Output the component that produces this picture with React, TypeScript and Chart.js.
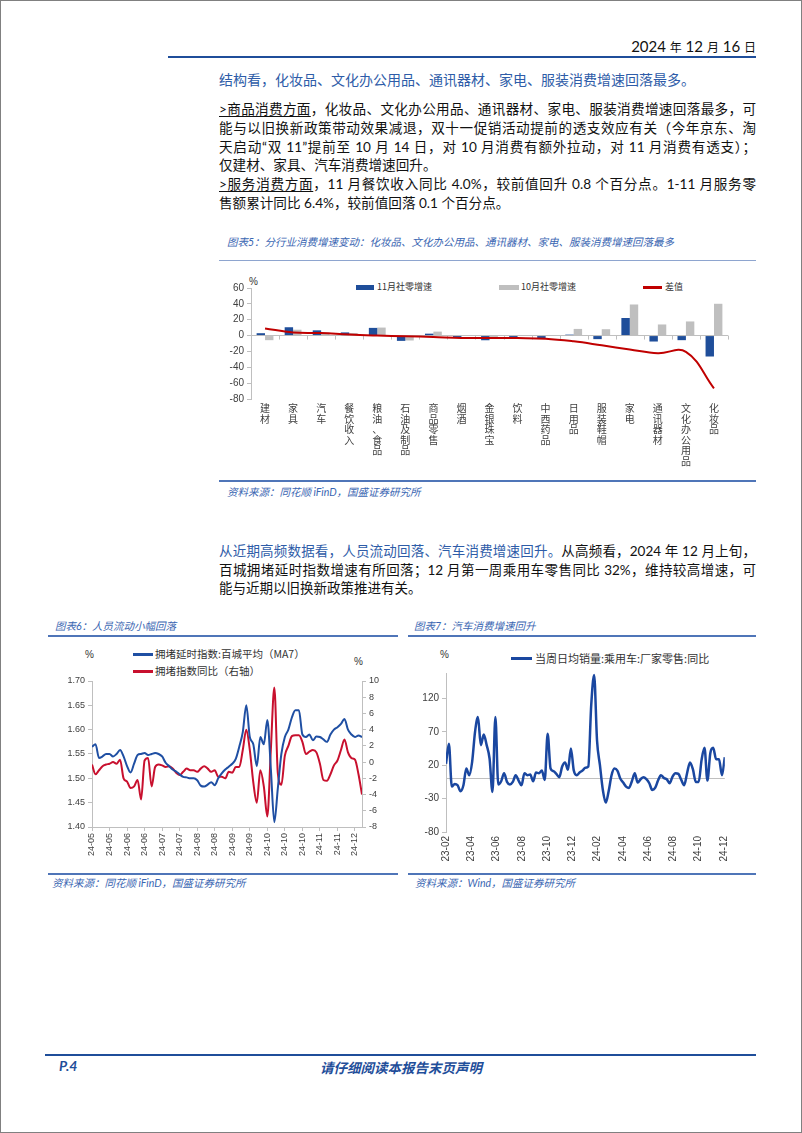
import React, { useEffect, useRef } from 'react';
import { Chart, registerables } from 'chart.js';

Chart.register(...registerables);
Chart.defaults.font.family = '"Liberation Sans", "Noto Sans CJK SC", sans-serif';
Chart.defaults.color = '#404040';

// ---------- Chart 5 data ----------
const categories5 = ['建材', '家具', '汽车', '餐饮收入', '粮油、食品', '石油及制品', '商品零售', '烟酒', '金银珠宝', '饮料', '中西药品', '日用品', '服装鞋帽', '家电', '通讯器材', '文化办公用品', '化妆品'];
const nov5 = [3.0, 10.5, 6.6, 4.0, 9.7, -6.7, 2.4, -3.1, -5.9, -2.4, -3.6, 1.2, -4.5, 22.2, -7.5, -5.8, -26.4];
const oct5 = [-5.8, 7.4, 3.7, 3.2, 10.1, -6.2, 5.0, 0.4, -2.9, 0.6, 0.4, 8.4, 8.0, 39.2, 14.0, 17.8, 40.1];
const diff5 = [9.0, 4.0, 3.2, 1.2, 0.0, -0.8, -1.8, -3.0, -3.1, -3.2, -3.9, -7.3, -12.3, -17.5, -22.2, -20.5, -66.5];
const yTicks5 = [-80, -60, -40, -20, 0, 20, 40, 60];

// ---------- Chart 6 data (one sample every 3 days from early May 2024) ----------
const sampleDays6 = 3;
const tickLabels6 = ['24-05', '24-05', '24-06', '24-06', '24-07', '24-07', '24-08', '24-08', '24-09', '24-09', '24-10', '24-10', '24-10', '24-11', '24-11', '24-12'];
const tickDays6 = [0, 15, 30, 45, 60, 75, 90, 105, 120, 135, 150, 165, 180, 195, 210, 225];
const congestion6 = [
  1.565, 1.570, 1.542, 1.545, 1.550, 1.550, 1.545, 1.550, 1.558, 1.545,
  1.525, 1.512, 1.530, 1.548, 1.550, 1.552, 1.548, 1.550, 1.552, 1.550,
  1.545, 1.532, 1.525, 1.518, 1.514, 1.508, 1.503, 1.502, 1.500, 1.500,
  1.496, 1.485, 1.483, 1.487, 1.492, 1.486, 1.500, 1.510, 1.518, 1.524,
  1.530, 1.540, 1.565, 1.595, 1.650, 1.585, 1.570, 1.525, 1.585, 1.570,
  1.620, 1.520, 1.410, 1.480, 1.550, 1.585, 1.600, 1.625, 1.640, 1.640,
  1.590, 1.585, 1.590, 1.578, 1.586, 1.585, 1.580, 1.575, 1.590, 1.600,
  1.605, 1.612, 1.622, 1.600, 1.590, 1.585, 1.588, 1.585,
];
const yoy6 = [
  -0.3, -1.5, -1.0, -0.5, -0.3, -0.2, 0.0, -0.2, 0.3, -2.0,
  -2.4, -3.2, -3.0, -2.2, -4.6, 0.2, 0.5, -3.0, -0.6, -0.3,
  -0.4, -0.6, -0.5, -0.8, -1.3, -1.6, -1.2, -0.8, -1.0, -1.0,
  -1.2, -0.8, -0.5, -0.8, -1.2, -1.0, -1.8, -1.8, -2.0, -1.2,
  -1.3, -0.6, -0.6, 1.5, 4.0, 1.5, -2.5, -5.0, -1.0, -3.0,
  -6.7, 1.5, 9.2, -1.4, -2.8, 0.8, 2.0, 3.2, 3.3, 3.3,
  2.5, 1.0, 1.3, 1.5, 1.2, -0.2, -2.2, -2.3, -1.5, -0.4,
  0.2, 1.5, 2.8, 1.2, 0.5, 0.3, -1.5, -4.0,
];
const leftTicks6 = [1.40, 1.45, 1.50, 1.55, 1.60, 1.65, 1.70];
const rightTicks6 = [-8, -6, -4, -2, 0, 2, 4, 6, 8, 10];

// ---------- Chart 7 data (weekly from Feb 2023) ----------
const tickLabels7 = ['23-02', '23-04', '23-06', '23-08', '23-10', '23-12', '24-02', '24-04', '24-06', '24-08', '24-10', '24-12'];
const tickWeeks7 = [0, 8.7, 17.4, 26.1, 34.8, 43.5, 52.2, 60.9, 69.6, 78.3, 87.0, 95.7];
const sales7 = [
  22, 52, -12, -8, -10, -19, -10, 15, 5, 25,
  70, 92, 50, 66, 50, 30, -20, 92, -9, -4,
  8, -5, -9, -5, 5, -3, -10, 8, 5, 6,
  -4, 9, 8, 12, -2, 67, 15, 11, 7, 2,
  18, 24, 13, 45, 12, 5, 9, 12, 16, 18,
  110, 155, 57, 20, -17, -36, -19, 5, 15, 12,
  0, -6, -12, -14, -4, 8, -6, -1, 2, -1,
  -7, -17, -14, -3, 5, 1, -1, -7, 3, 8,
  7, -2, -10, 8, 24, 14, -5, -5, 28, 46,
  -3, 38, 46, 29, 29, 5, 32,
];
const yTicks7 = [-80, -30, 0, 20, 70, 120];

const BLUE_TEXT = '#2e5ca8';
const TITLE_BLUE = '#3a66b2';
const CN = '"Noto Sans CJK SC", sans-serif';
const MIX = 'Lato, "Noto Sans CJK SC", sans-serif';
const GRAY = '#bfbfbf';

function ChartCanvas({ left, top, width, height, make }: { left: number; top: number; width: number; height: number; make: (c: HTMLCanvasElement) => Chart }) {
  const ref = useRef<HTMLCanvasElement>(null);
  useEffect(() => {
    const ch = make(ref.current as HTMLCanvasElement);
    return () => ch.destroy();
  }, []);
  return (
    <div style={{ position: 'absolute', left, top, width, height }}>
      <canvas ref={ref} width={width} height={height} style={{ width, height, display: 'block' }} />
    </div>
  );
}

const zeroTickPlugin = {
  id: 'zeroTicks',
  beforeDatasetsDraw(chart: any) {
    const { ctx, scales } = chart;
    const x = scales.x;
    const y = scales.y;
    const y0 = y.getPixelForValue(0);
    const step = x.getPixelForValue(1) - x.getPixelForValue(0);
    ctx.save();
    ctx.strokeStyle = GRAY;
    ctx.lineWidth = 1;
    for (let i = 0; i <= categories5.length; i++) {
      const px = Math.round(x.getPixelForValue(i) - step / 2) + 0.5;
      ctx.beginPath();
      ctx.moveTo(px, y0);
      ctx.lineTo(px, y0 + 4);
      ctx.stroke();
    }
    ctx.restore();
  },
};

function makeChart5(canvas: HTMLCanvasElement) {
  return new Chart(canvas, {
    type: 'bar',
    data: {
      labels: categories5.map((c) => Array.from(c)),
      datasets: [
        { type: 'line', label: '差值', data: diff5, borderColor: '#c00000', backgroundColor: '#c00000', borderWidth: 2, pointRadius: 0, tension: 0.4, order: 0 } as any,
        { type: 'bar', label: '11月社零增速', data: nov5, backgroundColor: '#1f4e9a', order: 1, categoryPercentage: 0.6, barPercentage: 1 },
        { type: 'bar', label: '10月社零增速', data: oct5, backgroundColor: '#bfbfbf', order: 1, categoryPercentage: 0.6, barPercentage: 1 },
      ],
    },
    options: {
      animation: false,
      responsive: false,
      layout: { padding: { top: 10, right: 10, left: 0, bottom: 0 } },
      plugins: { legend: { display: false }, tooltip: { enabled: false } },
      scales: {
        x: {
          grid: { display: false, drawTicks: false },
          border: { display: false },
          ticks: { autoSkip: false, maxRotation: 0, minRotation: 0, padding: 4, color: '#404040', font: { family: CN, size: 10, lineHeight: 1.05 } },
          afterFit: (s: any) => { s.height = 71; },
        },
        y: {
          min: -80,
          max: 60,
          afterBuildTicks: (s: any) => { s.ticks = yTicks5.map((v) => ({ value: v })); },
          ticks: { padding: 3, font: { size: 10 } },
          grid: { color: (c: any) => (c.tick && c.tick.value === 0 ? GRAY : 'rgba(0,0,0,0)'), tickColor: GRAY, tickLength: 4 },
          border: { color: GRAY },
          afterFit: (s: any) => { s.width = 29; },
        },
      },
    } as any,
    plugins: [zeroTickPlugin],
  } as any);
}

function makeChart6(canvas: HTMLCanvasElement) {
  return new Chart(canvas, {
    type: 'line',
    data: {
      datasets: [
        { label: '拥堵延时指数:百城平均（MA7）', data: congestion6.map((v, i) => ({ x: i * sampleDays6, y: v })), borderColor: '#1f4fa3', borderWidth: 2, pointRadius: 0, cubicInterpolationMode: 'monotone', yAxisID: 'y' },
        { label: '拥堵指数同比（右轴）', data: yoy6.map((v, i) => ({ x: i * sampleDays6, y: v })), borderColor: '#c8102e', borderWidth: 2, pointRadius: 0, cubicInterpolationMode: 'monotone', yAxisID: 'y1' },
      ],
    },
    options: {
      animation: false,
      responsive: false,
      layout: { padding: { top: 10, right: 0, left: 0, bottom: 0 } },
      plugins: { legend: { display: false }, tooltip: { enabled: false } },
      scales: {
        x: {
          type: 'linear',
          min: 0,
          max: 231,
          afterBuildTicks: (s: any) => { s.ticks = tickDays6.map((v) => ({ value: v })); },
          ticks: { autoSkip: false, minRotation: 90, maxRotation: 90, padding: 2, font: { size: 9 }, callback: (_v: any, i: number) => tickLabels6[i] },
          grid: { drawOnChartArea: false, color: GRAY, tickLength: 4 },
          border: { color: GRAY },
          afterFit: (s: any) => { s.height = 44; },
        },
        y: {
          position: 'left',
          min: 1.4,
          max: 1.7,
          afterBuildTicks: (s: any) => { s.ticks = leftTicks6.map((v) => ({ value: v })); },
          ticks: { padding: 3, font: { size: 9 }, callback: (v: any) => Number(v).toFixed(2) },
          grid: { drawOnChartArea: false, color: GRAY, tickLength: 4 },
          border: { color: GRAY },
          afterFit: (s: any) => { s.width = 37; },
        },
        y1: {
          position: 'right',
          min: -8,
          max: 10,
          afterBuildTicks: (s: any) => { s.ticks = rightTicks6.map((v) => ({ value: v })); },
          ticks: { padding: 3, font: { size: 9 }, callback: (v: any) => String(v) },
          grid: { drawOnChartArea: false, color: GRAY, tickLength: 4 },
          border: { color: GRAY },
          afterFit: (s: any) => { s.width = 33; },
        },
      },
    } as any,
  } as any);
}

function makeChart7(canvas: HTMLCanvasElement) {
  return new Chart(canvas, {
    type: 'line',
    data: {
      datasets: [
        { label: '当周日均销量:乘用车:厂家零售:同比', data: sales7.map((v, i) => ({ x: i, y: v })), borderColor: '#1a47a0', borderWidth: 2.5, pointRadius: 0, cubicInterpolationMode: 'monotone' },
      ],
    },
    options: {
      animation: false,
      responsive: false,
      layout: { padding: { top: 10, right: 15, left: 0, bottom: 0 } },
      plugins: { legend: { display: false }, tooltip: { enabled: false } },
      scales: {
        x: {
          type: 'linear',
          min: 0,
          max: sales7.length - 1,
          afterBuildTicks: (s: any) => { s.ticks = tickWeeks7.map((v) => ({ value: v })); },
          ticks: { autoSkip: false, minRotation: 90, maxRotation: 90, padding: 4, font: { size: 10 }, callback: (_v: any, i: number) => tickLabels7[i] },
          grid: { display: false, drawTicks: false },
          border: { display: false },
          afterFit: (s: any) => { s.height = 39; },
        },
        y: {
          min: -80,
          max: 158,
          afterBuildTicks: (s: any) => { s.ticks = yTicks7.map((v) => ({ value: v })); },
          ticks: { padding: 3, font: { size: 10 }, callback: (v: any) => (v === 0 ? '' : String(v)) },
          grid: {
            color: (c: any) => (c.tick && c.tick.value === 0 ? GRAY : 'rgba(0,0,0,0)'),
            tickColor: (c: any) => (c.tick && c.tick.value === 0 ? 'rgba(0,0,0,0)' : GRAY),
            tickLength: 4,
          },
          border: { color: GRAY },
          afterFit: (s: any) => { s.width = 31; },
        },
      },
    } as any,
  } as any);
}

const abs = (left: number, top: number, extra: React.CSSProperties = {}): React.CSSProperties => ({ position: 'absolute', left, top, whiteSpace: 'nowrap', ...extra });

function JLine({ children, justify = true }: { children: React.ReactNode; justify?: boolean }) {
  return (
    <div style={{ textAlign: justify ? 'justify' : 'left', textAlignLast: justify ? 'justify' : 'left', whiteSpace: 'normal' } as React.CSSProperties}>
      {children}
    </div>
  );
}

const ul: React.CSSProperties = { textDecoration: 'underline', textUnderlineOffset: 2 };

function HLine({ left, top, width, height, color }: { left: number; top: number; width: number; height: number; color: string }) {
  return <div style={{ position: 'absolute', left, top, width, height, background: color }} />;
}

export default function App() {
  const title: React.CSSProperties = { fontSize: 10.5, fontStyle: 'italic', color: TITLE_BLUE, fontFamily: MIX };
  const legendText: React.CSSProperties = { fontFamily: CN, color: '#333', lineHeight: '14px' };
  return (
    <div style={{ position: 'absolute', left: 0, top: 0, width: 802, height: 1133, background: '#fff', overflow: 'hidden', fontFamily: MIX, color: '#111' }}>
      {/* header */}
      <div style={abs(0, 37, { right: 46, left: 'auto', fontSize: 15, lineHeight: '18px' })}>
        2024 <span style={{ fontSize: 12 }}>年</span> 12 <span style={{ fontSize: 12 }}>月</span> 16 <span style={{ fontSize: 12 }}>日</span>
      </div>
      <HLine left={168} top={56} width={588} height={2} color="#1f4e9a" />

      <div style={abs(219, 70, { fontSize: 14, lineHeight: '20px', color: BLUE_TEXT })}>
        结构看，化妆品、文化办公用品、通讯器材、家电、服装消费增速回落最多。
      </div>

      <div style={{ position: 'absolute', left: 219, top: 100, width: 537, fontSize: 13.6, lineHeight: '18.8px' }}>
        <JLine><span style={ul}>&gt;商品消费方面</span>，化妆品、文化办公用品、通讯器材、家电、服装消费增速回落最多，可</JLine>
        <JLine>能与以旧换新政策带动效果减退，双十一促销活动提前的透支效应有关（今年京东、淘</JLine>
        <JLine>天启动“双 11”提前至 10 月 14 日，对 10 月消费有额外拉动，对 11 月消费有透支）；</JLine>
        <JLine justify={false}>仅建材、家具、汽车消费增速回升。</JLine>
        <JLine><span style={ul}>&gt;服务消费方面</span>，11 月餐饮收入同比 4.0%，较前值回升 0.8 个百分点。1-11 月服务零</JLine>
        <JLine justify={false}>售额累计同比 6.4%，较前值回落 0.1 个百分点。</JLine>
      </div>

      {/* chart 5 */}
      <div style={abs(227, 234, title)}>图表5：分行业消费增速变动：化妆品、文化办公用品、通讯器材、家电、服装消费增速回落最多</div>
      <HLine left={219} top={260} width={537} height={1} color="#8ea5cf" />
      <div style={abs(249, 276, { fontSize: 10, fontFamily: '"Liberation Sans"', color: '#333' })}>%</div>
      <div style={{ position: 'absolute', left: 356, top: 285, width: 18, height: 5, background: '#1f4e9a' }} />
      <div style={abs(377, 280, { ...legendText, fontSize: 9 })}>11月社零增速</div>
      <div style={{ position: 'absolute', left: 499, top: 285, width: 20, height: 5, background: '#bfbfbf' }} />
      <div style={abs(521, 280, { ...legendText, fontSize: 9 })}>10月社零增速</div>
      <div style={{ position: 'absolute', left: 643, top: 286, width: 19, height: 2.5, background: '#c00000' }} />
      <div style={abs(665, 280, { ...legendText, fontSize: 9 })}>差值</div>
      <ChartCanvas left={222} top={278} width={516} height={192} make={makeChart5} />
      <HLine left={219} top={480} width={537} height={1.5} color="#4f75b8" />
      <div style={abs(227, 484, title)}>资料来源：同花顺 iFinD，国盛证券研究所</div>

      {/* paragraph 2 */}
      <div style={{ position: 'absolute', left: 219, top: 542, width: 537, fontSize: 13.5, lineHeight: '18.5px' }}>
        <JLine><span style={{ color: BLUE_TEXT }}>从近期高频数据看，人员流动回落、汽车消费增速回升。</span>从高频看，2024 年 12 月上旬，</JLine>
        <JLine>百城拥堵延时指数增速有所回落；12 月第一周乘用车零售同比 32%，维持较高增速，可</JLine>
        <JLine justify={false}>能与近期以旧换新政策推进有关。</JLine>
      </div>

      {/* chart 6 */}
      <div style={abs(55, 618, title)}>图表6：人员流动小幅回落</div>
      <HLine left={48} top={635} width={350} height={1.5} color="#4f75b8" />
      <div style={abs(85, 649, { fontSize: 10, fontFamily: '"Liberation Sans"', color: '#333' })}>%</div>
      <div style={abs(354, 656, { fontSize: 10, fontFamily: '"Liberation Sans"', color: '#333' })}>%</div>
      <div style={{ position: 'absolute', left: 133, top: 653, width: 20, height: 2.5, background: '#1f4fa3' }} />
      <div style={abs(155, 647, { ...legendText, fontSize: 10.5 })}>拥堵延时指数:百城平均（MA7）</div>
      <div style={{ position: 'absolute', left: 133, top: 670, width: 20, height: 2.5, background: '#c8102e' }} />
      <div style={abs(155, 664, { ...legendText, fontSize: 10.5 })}>拥堵指数同比（右轴）</div>
      <ChartCanvas left={55} top={671} width={340} height={200} make={makeChart6} />
      <HLine left={48} top={873} width={350} height={1.5} color="#4f75b8" />
      <div style={abs(52, 875, title)}>资料来源：同花顺 iFinD，国盛证券研究所</div>

      {/* chart 7 */}
      <div style={abs(414, 618, title)}>图表7：汽车消费增速回升</div>
      <HLine left={408} top={635} width={348} height={1.5} color="#4f75b8" />
      <div style={abs(440, 649, { fontSize: 10, fontFamily: '"Liberation Sans"', color: '#333' })}>%</div>
      <div style={{ position: 'absolute', left: 511, top: 657, width: 21, height: 2.5, background: '#1a47a0' }} />
      <div style={abs(535, 651, { ...legendText, fontSize: 11 })}>当周日均销量:乘用车:厂家零售:同比</div>
      <ChartCanvas left={415} top={663} width={325} height={208} make={makeChart7} />
      <HLine left={408} top={873} width={348} height={1.5} color="#4f75b8" />
      <div style={abs(415, 875, title)}>资料来源：Wind，国盛证券研究所</div>

      {/* footer */}
      <HLine left={45} top={1054} width={711} height={2} color="#1f4e9a" />
      <div style={abs(59, 1057, { fontSize: 14, fontWeight: 'bold', fontStyle: 'italic', color: '#1f4e9a', fontFamily: MIX })}>P.4</div>
      <div style={abs(320, 1057, { fontSize: 13.5, fontWeight: 'bold', fontStyle: 'italic', color: '#1f4e9a', fontFamily: CN })}>请仔细阅读本报告末页声明</div>

      {/* page border */}
      <div style={{ position: 'absolute', left: 0, top: 0, width: 802, height: 1133, border: '1px solid #808080', boxSizing: 'border-box', pointerEvents: 'none' }} />
    </div>
  );
}
